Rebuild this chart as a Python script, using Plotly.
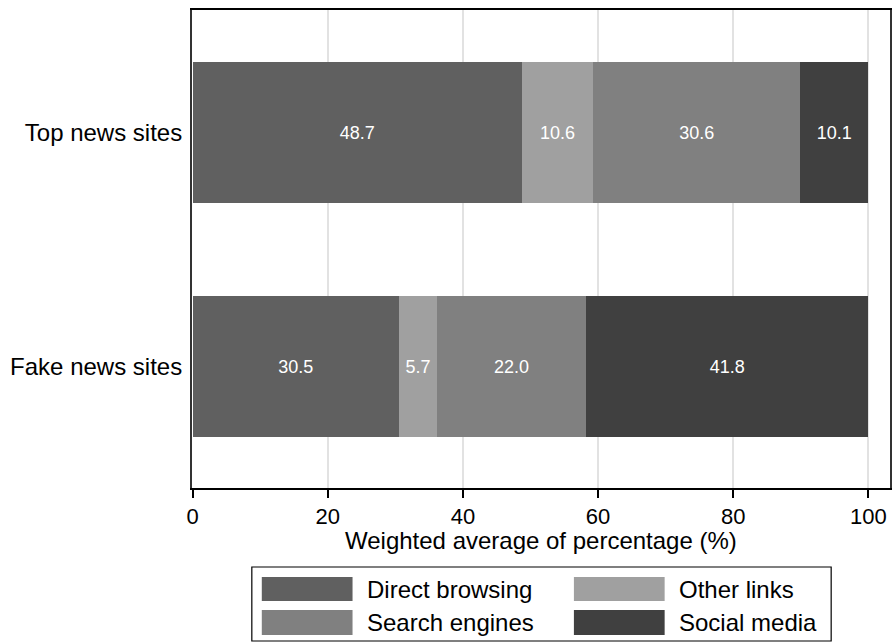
import plotly.graph_objects as go

categories = ["Fake news sites", "Top news sites"]
series_names = ["Direct browsing", "Other links", "Search engines", "Social media"]
series_colors = ["#606060", "#a0a0a0", "#808080", "#404040"]
direct_browsing = [30.5, 48.7]
other_links = [5.7, 10.6]
search_engines = [22.0, 30.6]
social_media = [41.8, 10.1]
series_values = [direct_browsing, other_links, search_engines, social_media]
x_ticks = [0, 20, 40, 60, 80, 100]
x_title = "Weighted average of percentage (%)"

FONT = "Liberation Sans, Arial, sans-serif"
W, H = 893, 644
L, R, T, B = 192, 1, 10, 156
PW, PH = W - L - R, H - T - B

fig = go.Figure()
for name, color, vals in zip(series_names, series_colors, series_values):
    fig.add_trace(go.Bar(
        y=categories, x=vals, name=name, orientation="h",
        marker=dict(color=color, line=dict(width=0)),
        width=0.6,
        text=[f"{v:.1f}" for v in vals], textposition="inside",
        insidetextanchor="middle",
        textfont=dict(color="white", size=18, family=FONT),
        showlegend=False,
    ))

def px_x(px):
    return (px - L) / PW

def px_y(py):
    return (H - B - py) / PH

shapes = []
annotations = []
# axis title
annotations.append(dict(xref="paper", yref="paper", x=0.5, y=px_y(540),
                        text=x_title, showarrow=False, xanchor="center", yanchor="middle",
                        font=dict(size=24, color="black", family=FONT)))
# legend frame
shapes.append(dict(type="rect", xref="paper", yref="paper",
                   x0=px_x(252), x1=px_x(833), y0=px_y(641), y1=px_y(567),
                   line=dict(color="black", width=1.2), fillcolor="white"))
col_x = [262, 575]
row_y = [(577, 601), (610, 635)]
for i, (name, color) in enumerate(zip(series_names, series_colors)):
    r, c = divmod(i, 2)
    x0 = col_x[c]
    y0, y1 = row_y[r]
    shapes.append(dict(type="rect", xref="paper", yref="paper",
                       x0=px_x(x0), x1=px_x(x0 + 91), y0=px_y(y1), y1=px_y(y0),
                       line=dict(width=0), fillcolor=color))
    annotations.append(dict(xref="paper", yref="paper", x=px_x(x0 + 103),
                            y=px_y((y0 + y1) / 2), text=name, showarrow=False,
                            xanchor="left", yanchor="middle",
                            font=dict(size=24, color="black", family=FONT)))

fig.update_layout(
    barmode="stack",
    width=W, height=H,
    margin=dict(l=L, r=R, t=T, b=B),
    plot_bgcolor="white", paper_bgcolor="white",
    font=dict(family=FONT, color="black"),
    shapes=shapes, annotations=annotations,
    uniformtext=dict(minsize=8, mode="show"),
)
fig.update_xaxes(
    range=[-0.1, 103.2], tickvals=x_ticks,
    ticks="outside", ticklen=8, tickcolor="black", tickwidth=1.5,
    tickfont=dict(size=22, family=FONT),
    showgrid=True, gridcolor="#e2e2e2", gridwidth=2,
    showline=True, linecolor="black", linewidth=1.5, mirror=True,
    zeroline=False,
)
fig.update_yaxes(
    type="category", categoryorder="array", categoryarray=categories,
    range=[-0.519, 1.524],
    ticks="", tickfont=dict(size=24, family=FONT), ticklabelstandoff=3,
    showline=True, linecolor="#333333", linewidth=2, mirror=True,
    showgrid=False,
)

fig.write_html("out.html", config={"displayModeBar": False},
               post_script="document.body.style.margin='0';document.body.style.overflow='hidden';")
